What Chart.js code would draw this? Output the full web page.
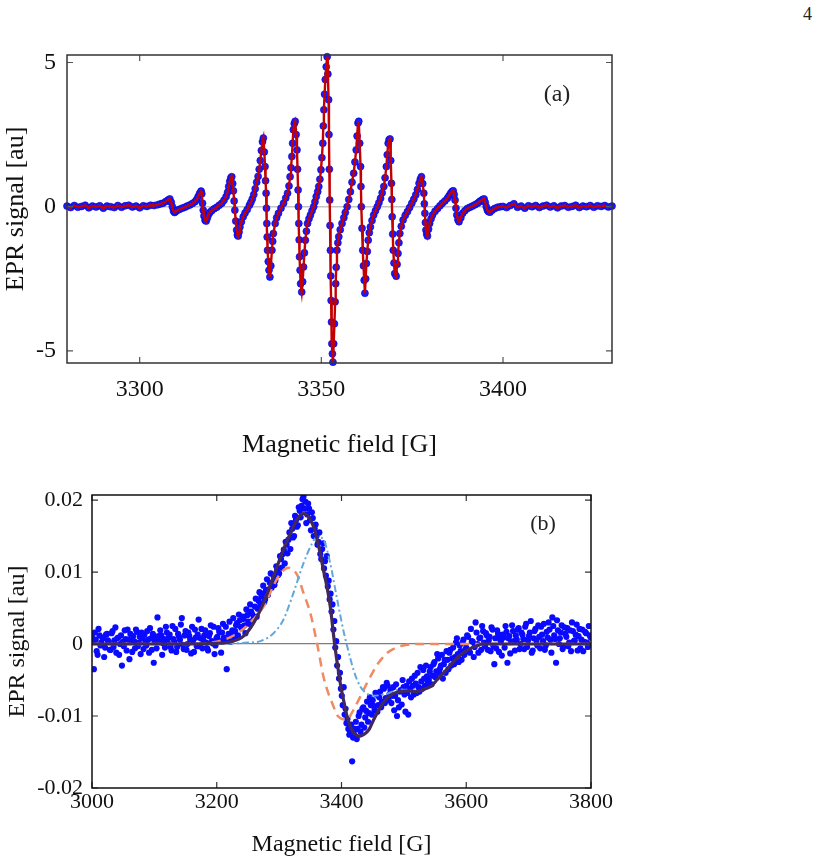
<!DOCTYPE html>
<html>
<head>
<meta charset="utf-8">
<script src="https://cdn.jsdelivr.net/npm/chart.js@4.4.1/dist/chart.umd.min.js"></script>
<style>
  body { margin: 0; background: #fff; }
  #page { position: relative; width: 824px; height: 859px; overflow: hidden; font-family: 'Liberation Serif', serif; }
  canvas { position: absolute; left: 0; }
  #pageNo { position: absolute; left: 803px; top: 4px; font-size: 18px; color: #222; }
</style>
</head>
<body>
<div id="page">
  <div id="pageNo">4</div>
  <canvas id="chartA" width="640" height="470" style="top:0px"></canvas>
  <canvas id="chartB" width="640" height="399" style="top:460px"></canvas>
</div>
<script>
// ---- panel (a): hyperfine spectrum, field [G] and signal [au]
const fieldA = [
  3280, 3281, 3282, 3283, 3284, 3285, 3286, 3287, 3288, 3289,
  3290, 3291, 3292, 3293, 3294, 3295, 3296, 3297, 3298, 3299,
  3300, 3301, 3302, 3303, 3304, 3305, 3305.8, 3306.4, 3307.2, 3307.8,
  3308.3, 3308.7, 3309.0, 3309.3, 3309.6, 3309.9, 3310.4, 3311.0, 3311.7, 3312.4,
  3313.1, 3313.8, 3314.5, 3315.2, 3315.7, 3316.1, 3316.5, 3316.9, 3317.1, 3317.3,
  3317.5, 3317.7, 3318.0, 3318.3, 3318.6, 3318.9, 3319.3, 3319.8, 3320.5, 3321.2,
  3321.9, 3322.6, 3323.2, 3323.8, 3324.2, 3324.5, 3324.8, 3325.1, 3325.35, 3325.6,
  3325.8, 3326.0, 3326.2, 3326.45, 3326.7, 3326.9, 3327.1, 3327.35, 3327.6, 3328.0,
  3328.5, 3329.0, 3329.6, 3330.2, 3330.6, 3331.0, 3331.4, 3331.8, 3332.2, 3332.6,
  3332.9, 3333.2, 3333.5, 3333.8, 3334.05, 3334.3, 3334.5, 3334.65, 3334.8, 3334.9,
  3335.0, 3335.1, 3335.2, 3335.4, 3335.6, 3335.85, 3336.1, 3336.4, 3336.6, 3336.8,
  3337.3, 3337.7, 3338.2, 3338.9, 3339.6, 3340.2, 3340.7, 3341.1, 3341.4, 3341.65,
  3341.9, 3342.1, 3342.3, 3342.55, 3342.8, 3343.05, 3343.3, 3343.45, 3343.6, 3343.7,
  3343.8, 3343.9, 3344.0, 3344.15, 3344.3, 3344.6, 3344.85, 3345.1, 3345.35, 3345.6,
  3345.9, 3346.2, 3346.6, 3347.0, 3347.45, 3347.9, 3348.25, 3348.6, 3349.0, 3349.3,
  3349.6, 3349.9, 3350.15, 3350.4, 3350.55, 3350.7, 3350.9, 3351.1, 3351.35, 3351.6,
  3351.8, 3352.0, 3352.1, 3352.2, 3352.3, 3352.4, 3352.5, 3352.6, 3352.7, 3352.8,
  3352.9, 3353.05, 3353.2, 3353.4, 3353.6, 3353.8, 3353.95, 3354.1, 3354.3, 3354.55,
  3354.8, 3355.2, 3355.7, 3356.2, 3356.6, 3357.1, 3357.55, 3358.0, 3358.45, 3358.9,
  3359.25, 3359.6, 3359.85, 3360.1, 3360.3, 3360.55, 3360.8, 3360.9, 3361.0, 3361.2,
  3361.4, 3361.6, 3361.8, 3362.0, 3362.2, 3362.4, 3362.65, 3362.9, 3363.2, 3363.5,
  3363.95, 3364.4, 3364.9, 3365.4, 3365.85, 3366.3, 3366.75, 3367.2, 3367.55, 3367.9,
  3368.15, 3368.4, 3368.65, 3368.9, 3369.1, 3369.3, 3369.4, 3369.5, 3369.65, 3369.8,
  3370.0, 3370.2, 3370.6, 3370.85, 3371.1, 3371.35, 3371.6, 3372.0, 3372.5, 3373.1,
  3373.7, 3374.3, 3374.9, 3375.45, 3376.0, 3376.45, 3376.9, 3377.25, 3377.55, 3377.9,
  3378.2, 3378.35, 3378.5, 3378.65, 3378.8, 3379.0, 3379.2, 3379.5, 3379.8, 3380.2,
  3380.6, 3381.3, 3382.0, 3382.65, 3383.3, 3384.0, 3384.7, 3385.15, 3385.6, 3386.0,
  3386.3, 3386.55, 3386.8, 3387.05, 3387.3, 3387.6, 3387.9, 3388.4, 3388.9, 3389.5,
  3390.2, 3390.9, 3391.6, 3392.3, 3393.0, 3393.5, 3393.9, 3394.4, 3394.8, 3395.1,
  3395.4, 3395.7, 3396.0, 3396.4, 3397.0, 3397.7, 3398.5, 3399.3, 3400.0, 3401,
  3402, 3403, 3404, 3405, 3406, 3407, 3408, 3409, 3410, 3411,
  3412, 3413, 3414, 3415, 3416, 3417, 3418, 3419, 3420, 3421,
  3422, 3423, 3424, 3425, 3426, 3427, 3428, 3429, 3430
];
const signalA = [
  0.02, -0.03, 0.04, -0.02, 0.01, 0.05, -0.04, 0.02, -0.01, 0.03,
  -0.05, 0.02, 0.00, -0.03, 0.04, -0.02, 0.03, 0.05, -0.01, 0.02,
  -0.04, 0.03, 0.01, 0.05, 0.04, 0.07, 0.10, 0.12, 0.18, 0.23,
  0.27, 0.15, 0.00, -0.15, -0.20, -0.17, -0.12, -0.09, -0.05, -0.02,
  0.02, 0.06, 0.11, 0.17, 0.25, 0.35, 0.46, 0.54, 0.45, 0.12,
  -0.12, -0.32, -0.47, -0.50, -0.40, -0.29, -0.20, -0.14, -0.07, -0.02,
  0.05, 0.12, 0.22, 0.35, 0.50, 0.70, 0.88, 1.00, 1.04, 0.80,
  0.55, 0.20, -0.12, -0.50, -0.81, -0.98, -1.02, -0.88, -0.70, -0.52,
  -0.35, -0.22, -0.10, 0.05, 0.15, 0.27, 0.42, 0.62, 0.85, 1.05,
  1.30, 1.60, 1.95, 2.25, 2.38, 1.90, 1.39, 0.90, 0.47, -0.05,
  -0.58, -1.05, -1.51, -1.90, -2.20, -2.44, -2.05, -1.51, -1.20, -0.93,
  -0.58, -0.38, -0.23, -0.05, 0.12, 0.30, 0.47, 0.72, 1.04, 1.35,
  1.74, 2.20, 2.67, 2.88, 2.96, 2.50, 1.97, 1.30, 0.58, 0.00,
  -0.58, -1.15, -1.74, -2.20, -2.67, -2.96, -2.60, -2.09, -1.60, -1.16,
  -0.85, -0.58, -0.42, -0.29, -0.14, 0.00, 0.17, 0.35, 0.52, 0.70,
  0.95, 1.28, 1.70, 2.20, 2.80, 3.36, 3.90, 4.41, 4.85, 5.20,
  4.60, 3.71, 2.50, 1.30, 0.23, -0.65, -1.51, -2.40, -3.25, -4.00,
  -4.75, -5.10, -5.39, -4.75, -4.06, -3.30, -2.67, -2.10, -1.51, -1.25,
  -1.04, -0.80, -0.58, -0.38, -0.20, 0.00, 0.25, 0.52, 0.85, 1.16,
  1.55, 1.97, 2.45, 2.90, 2.96, 2.20, 1.39, 0.70, 0.00, -0.75,
  -1.51, -2.05, -2.55, -3.00, -2.50, -1.97, -1.55, -1.16, -0.90, -0.70,
  -0.48, -0.29, -0.14, 0.00, 0.14, 0.29, 0.48, 0.70, 1.00, 1.39,
  1.80, 2.20, 2.32, 2.35, 1.60, 0.81, 0.25, -0.35, -0.95, -1.51,
  -1.95, -2.32, -2.41, -2.00, -1.62, -1.25, -0.93, -0.68, -0.46, -0.30,
  -0.17, -0.03, 0.12, 0.26, 0.41, 0.60, 0.81, 0.95, 1.04, 0.80,
  0.47, 0.10, -0.23, -0.55, -0.81, -0.95, -1.02, -0.78, -0.58, -0.42,
  -0.29, -0.16, -0.06, 0.03, 0.12, 0.20, 0.29, 0.38, 0.47, 0.53,
  0.55, 0.42, 0.23, -0.05, -0.29, -0.45, -0.52, -0.38, -0.23, -0.14,
  -0.06, -0.02, 0.02, 0.07, 0.12, 0.17, 0.21, 0.25, 0.27, 0.15,
  0.00, -0.12, -0.17, -0.19, -0.12, -0.06, -0.02, 0.00, 0.01, -0.03,
  0.04, 0.10, -0.02, 0.02, -0.05, 0.03, 0.00, 0.04, -0.03, 0.02,
  0.05, -0.01, 0.03, -0.04, 0.02, 0.04, -0.02, 0.01, 0.05, -0.03,
  0.02, 0.00, 0.04, -0.02, 0.03, 0.01, 0.04, -0.01, 0.02
];
const xTicksA = [3300, 3350, 3400];
const xTickLabelsA = ['3300', '3350', '3400'];
const yTicksA = [-5, 0, 5];
const yTickLabelsA = ['-5', '0', '5'];

// ---- panel (b): broad line, measured points (two interleaved groups)
const fieldB = [
  3000, 3003, 3006, 3009, 3012, 3015, 3018, 3021, 3024, 3027,
  3030, 3033, 3036, 3039, 3042, 3045, 3048, 3051, 3054, 3057,
  3060, 3063, 3066, 3069, 3072, 3075, 3078, 3081, 3084, 3087,
  3090, 3093, 3096, 3099, 3102, 3105, 3108, 3111, 3114, 3117,
  3120, 3123, 3126, 3129, 3132, 3135, 3138, 3141, 3144, 3147,
  3150, 3153, 3156, 3159, 3162, 3165, 3168, 3171, 3174, 3177,
  3180, 3183, 3186, 3189, 3192, 3195, 3198, 3201, 3204, 3207,
  3210, 3213, 3216, 3219, 3222, 3225, 3228, 3231, 3234, 3237,
  3240, 3243, 3246, 3249, 3252, 3255, 3258, 3261, 3264, 3267,
  3270, 3273, 3276, 3279, 3282, 3285, 3288, 3291, 3294, 3297,
  3300, 3303, 3306, 3309, 3312, 3315, 3318, 3321, 3324, 3327,
  3330, 3333, 3336, 3339, 3342, 3345, 3348, 3351, 3354, 3357,
  3360, 3363, 3366, 3369, 3372, 3375, 3378, 3381, 3384, 3387,
  3390, 3393, 3396, 3399, 3402, 3405, 3408, 3411, 3414, 3417,
  3420, 3423, 3426, 3429, 3432, 3435, 3438, 3441, 3444, 3447,
  3450, 3453, 3456, 3459, 3462, 3465, 3468, 3471, 3474, 3477,
  3480, 3483, 3486, 3489, 3492, 3495, 3498, 3501, 3504, 3507,
  3510, 3513, 3516, 3519, 3522, 3525, 3528, 3531, 3534, 3537,
  3540, 3543, 3546, 3549, 3552, 3555, 3558, 3561, 3564, 3567,
  3570, 3573, 3576, 3579, 3582, 3585, 3588, 3591, 3594, 3597,
  3600, 3603, 3606, 3609, 3612, 3615, 3618, 3621, 3624, 3627,
  3630, 3633, 3636, 3639, 3642, 3645, 3648, 3651, 3654, 3657,
  3660, 3663, 3666, 3669, 3672, 3675, 3678, 3681, 3684, 3687,
  3690, 3693, 3696, 3699, 3702, 3705, 3708, 3711, 3714, 3717,
  3720, 3723, 3726, 3729, 3732, 3735, 3738, 3741, 3744, 3747,
  3750, 3753, 3756, 3759, 3762, 3765, 3768, 3771, 3774, 3777,
  3780, 3783, 3786, 3789, 3792, 3795, 3798
];
const signalB = [
  0.0010, -0.0035, 0.0006, -0.0015, 0.0012, 0.0002, 0.0008, -0.0005, 0.0014, 0.0003,
  -0.0008, 0.0018, 0.0005, -0.0012, 0.0009, 0.0000, -0.0030, -0.0003, 0.0007, 0.0020,
  -0.0021, 0.0004, 0.0011, -0.0006, 0.0017, 0.0002, -0.0014, 0.0008, 0.0013, -0.0002,
  0.0006, 0.0022, -0.0008, -0.0026, 0.0010, 0.0037, 0.0004, 0.0012, 0.0001, -0.0005,
  0.0016, 0.0009, -0.0004, 0.0025, 0.0003, -0.0011, 0.0014, 0.0006, 0.0036, -0.0007,
  0.0018, 0.0000, 0.0011, -0.0013, 0.0005, 0.0020, -0.0003, 0.0034, 0.0008, -0.0006,
  0.0012, 0.0002, -0.0009, 0.0015, 0.0004, 0.0024, -0.0002, 0.0010, 0.0017, -0.0012,
  0.0028, 0.0007, -0.0035, 0.0014, 0.0003, 0.0019, 0.0009, 0.0026, 0.0012, 0.0033,
  0.0022, 0.0035, 0.0015, 0.0040, 0.0028, 0.0045, 0.0033, 0.0052, 0.0038, 0.0060,
  0.0055, 0.0070, 0.0058, 0.0075, 0.0068, 0.0085, 0.0078, 0.0095, 0.0088, 0.0104,
  0.0098, 0.0118, 0.0125, 0.0112, 0.0138, 0.0145, 0.0132, 0.0160, 0.0150, 0.0172,
  0.0165, 0.0185, 0.0192, 0.0205, 0.0198, 0.0180, 0.0188, 0.0158, 0.0175, 0.0160,
  0.0150, 0.0142, 0.0125, 0.0132, 0.0105, 0.0095, 0.0080, 0.0062, 0.0045, 0.0020,
  -0.0005, -0.0030, -0.0048, -0.0062, -0.0085, -0.0098, -0.0110, -0.0118, -0.0124, -0.0163,
  -0.0125, -0.0108, -0.0118, -0.0095, -0.0112, -0.0088, -0.0102, -0.0080, -0.0096, -0.0085,
  -0.0078, -0.0092, -0.0070, -0.0085, -0.0066, -0.0080, -0.0062, -0.0075, -0.0058, -0.0070,
  -0.0082, -0.0060, -0.0072, -0.0100, -0.0088, -0.0064, -0.0050, -0.0070, -0.0058, -0.0098,
  -0.0062, -0.0048, -0.0070, -0.0055, -0.0040, -0.0066, -0.0052, -0.0036, -0.0058, -0.0045,
  -0.0050, -0.0032, -0.0044, -0.0025, -0.0038, -0.0020, -0.0034, -0.0015, -0.0028, -0.0040,
  -0.0022, -0.0012, -0.0030, -0.0005, -0.0018, 0.0008, -0.0025, -0.0010, 0.0002, -0.0015,
  -0.0005, 0.0010, -0.0012, 0.0004, -0.0018, 0.0030, 0.0000, 0.0008, -0.0008, 0.0018,
  -0.0003, 0.0012, 0.0005, -0.0010, 0.0020, -0.0028, -0.0006, 0.0014, 0.0007, -0.0016,
  0.0009, 0.0025, -0.0026, 0.0011, 0.0003, 0.0018, -0.0009, 0.0006, 0.0022, 0.0000,
  0.0013, -0.0007, 0.0028, 0.0005, 0.0016, -0.0012, 0.0008, 0.0021, -0.0002, 0.0010,
  0.0024, 0.0004, -0.0008, 0.0017, 0.0030, 0.0006, 0.0037, 0.0012, -0.0026, 0.0019,
  0.0008, 0.0026, -0.0003, 0.0014, 0.0022, 0.0002, -0.0010, 0.0018, 0.0005, 0.0027,
  0.0011, -0.0006, 0.0020, 0.0003, 0.0015, -0.0004, 0.0012
];
const fieldB2 = [
  3001.5, 3004.5, 3007.5, 3010.5, 3013.5, 3016.5, 3019.5, 3022.5, 3025.5, 3028.5,
  3031.5, 3034.5, 3037.5, 3040.5, 3043.5, 3046.5, 3049.5, 3052.5, 3055.5, 3058.5,
  3061.5, 3064.5, 3067.5, 3070.5, 3073.5, 3076.5, 3079.5, 3082.5, 3085.5, 3088.5,
  3091.5, 3094.5, 3097.5, 3100.5, 3103.5, 3106.5, 3109.5, 3112.5, 3115.5, 3118.5,
  3121.5, 3124.5, 3127.5, 3130.5, 3133.5, 3136.5, 3139.5, 3142.5, 3145.5, 3148.5,
  3151.5, 3154.5, 3157.5, 3160.5, 3163.5, 3166.5, 3169.5, 3172.5, 3175.5, 3178.5,
  3181.5, 3184.5, 3187.5, 3190.5, 3193.5, 3196.5, 3199.5, 3202.5, 3205.5, 3208.5,
  3211.5, 3214.5, 3217.5, 3220.5, 3223.5, 3226.5, 3229.5, 3232.5, 3235.5, 3238.5,
  3241.5, 3244.5, 3247.5, 3250.5, 3253.5, 3256.5, 3259.5, 3262.5, 3265.5, 3268.5,
  3271.5, 3274.5, 3277.5, 3280.5, 3283.5, 3286.5, 3289.5, 3292.5, 3295.5, 3298.5,
  3301.5, 3304.5, 3307.5, 3310.5, 3313.5, 3316.5, 3319.5, 3322.5, 3325.5, 3328.5,
  3331.5, 3334.5, 3337.5, 3340.5, 3343.5, 3346.5, 3349.5, 3352.5, 3355.5, 3358.5,
  3361.5, 3364.5, 3367.5, 3370.5, 3373.5, 3376.5, 3379.5, 3382.5, 3385.5, 3388.5,
  3391.5, 3394.5, 3397.5, 3400.5, 3403.5, 3406.5, 3409.5, 3412.5, 3415.5, 3418.5,
  3421.5, 3424.5, 3427.5, 3430.5, 3433.5, 3436.5, 3439.5, 3442.5, 3445.5, 3448.5,
  3451.5, 3454.5, 3457.5, 3460.5, 3463.5, 3466.5, 3469.5, 3472.5, 3475.5, 3478.5,
  3481.5, 3484.5, 3487.5, 3490.5, 3493.5, 3496.5, 3499.5, 3502.5, 3505.5, 3508.5,
  3511.5, 3514.5, 3517.5, 3520.5, 3523.5, 3526.5, 3529.5, 3532.5, 3535.5, 3538.5,
  3541.5, 3544.5, 3547.5, 3550.5, 3553.5, 3556.5, 3559.5, 3562.5, 3565.5, 3568.5,
  3571.5, 3574.5, 3577.5, 3580.5, 3583.5, 3586.5, 3589.5, 3592.5, 3595.5, 3598.5,
  3601.5, 3604.5, 3607.5, 3610.5, 3613.5, 3616.5, 3619.5, 3622.5, 3625.5, 3628.5,
  3631.5, 3634.5, 3637.5, 3640.5, 3643.5, 3646.5, 3649.5, 3652.5, 3655.5, 3658.5,
  3661.5, 3664.5, 3667.5, 3670.5, 3673.5, 3676.5, 3679.5, 3682.5, 3685.5, 3688.5,
  3691.5, 3694.5, 3697.5, 3700.5, 3703.5, 3706.5, 3709.5, 3712.5, 3715.5, 3718.5,
  3721.5, 3724.5, 3727.5, 3730.5, 3733.5, 3736.5, 3739.5, 3742.5, 3745.5, 3748.5,
  3751.5, 3754.5, 3757.5, 3760.5, 3763.5, 3766.5, 3769.5, 3772.5, 3775.5, 3778.5,
  3781.5, 3784.5, 3787.5, 3790.5, 3793.5, 3796.5, 3799.5
];
const signalB2 = [
  0.0004, 0.0016, -0.0010, 0.0021, -0.0002, 0.0009, -0.0018, 0.0013, 0.0005, -0.0008,
  0.0015, -0.0004, 0.0023, 0.0008, -0.0015, 0.0012, 0.0003, 0.0019, -0.0009, 0.0006,
  0.0014, -0.0011, 0.0004, 0.0020, -0.0003, 0.0010, 0.0016, -0.0007, 0.0002, 0.0018,
  -0.0012, 0.0008, 0.0014, 0.0003, -0.0006, 0.0011, 0.0019, -0.0015, 0.0007, 0.0024,
  0.0002, 0.0013, -0.0009, 0.0007, 0.0021, -0.0004, 0.0010, 0.0027, -0.0001, 0.0012,
  -0.0008, 0.0016, 0.0006, 0.0024, -0.0011, 0.0009, 0.0013, -0.0003, 0.0021, 0.0005,
  0.0019, -0.0006, 0.0011, 0.0026, 0.0001, -0.0014, 0.0008, 0.0022, 0.0004, 0.0016,
  0.0009, 0.0024, 0.0005, 0.0031, 0.0012, 0.0036, 0.0018, 0.0029, 0.0041, 0.0024,
  0.0038, 0.0026, 0.0048, 0.0031, 0.0055, 0.0042, 0.0036, 0.0063, 0.0049, 0.0072,
  0.0066, 0.0081, 0.0062, 0.0090, 0.0076, 0.0098, 0.0084, 0.0082, 0.0108, 0.0096,
  0.0122, 0.0106, 0.0131, 0.0142, 0.0126, 0.0155, 0.0168, 0.0148, 0.0178, 0.0163,
  0.0190, 0.0176, 0.0201, 0.0188, 0.0168, 0.0195, 0.0172, 0.0183, 0.0150, 0.0166,
  0.0138, 0.0155, 0.0118, 0.0140, 0.0115, 0.0122, 0.0088, 0.0070, 0.0055, 0.0032,
  0.0004, -0.0018, -0.0040, -0.0072, -0.0060, -0.0090, -0.0104, -0.0126, -0.0112, -0.0130,
  -0.0118, -0.0132, -0.0100, -0.0122, -0.0090, -0.0116, -0.0093, -0.0108, -0.0074, -0.0098,
  -0.0086, -0.0068, -0.0094, -0.0074, -0.0088, -0.0060, -0.0082, -0.0054, -0.0078, -0.0064,
  -0.0072, -0.0092, -0.0056, -0.0078, -0.0066, -0.0084, -0.0060, -0.0094, -0.0068, -0.0052,
  -0.0074, -0.0058, -0.0044, -0.0068, -0.0060, -0.0032, -0.0062, -0.0048, -0.0030, -0.0054,
  -0.0038, -0.0056, -0.0028, -0.0046, -0.0014, -0.0040, -0.0030, -0.0048, -0.0022, -0.0010,
  -0.0035, -0.0008, -0.0020, -0.0028, 0.0002, -0.0014, -0.0002, -0.0022, 0.0006, -0.0008,
  0.0012, -0.0010, 0.0021, 0.0003, -0.0004, 0.0016, -0.0012, 0.0009, 0.0025, 0.0002,
  0.0015, -0.0008, 0.0010, 0.0023, -0.0003, 0.0008, 0.0019, -0.0011, 0.0004, 0.0013,
  -0.0005, 0.0017, 0.0008, -0.0013, 0.0026, 0.0004, 0.0012, 0.0020, -0.0007, 0.0016,
  0.0007, 0.0024, -0.0004, 0.0011, 0.0032, -0.0009, 0.0018, 0.0005, 0.0026, -0.0006,
  0.0013, 0.0028, -0.0002, 0.0009, 0.0020, -0.0012, 0.0025, 0.0007, 0.0033, 0.0000,
  0.0016, -0.0007, 0.0023, 0.0010, -0.0003, 0.0019, 0.0030, 0.0004, 0.0013, -0.0009,
  0.0021, 0.0006, -0.0010, 0.0017, 0.0002, 0.0025, 0.0009
];

// total fit
const fitFieldB = [3000, 3100, 3200, 3222, 3243, 3259, 3275, 3291, 3307, 3323, 3331, 3339, 3345, 3350, 3356, 3361, 3366, 3371, 3377, 3382, 3389, 3398, 3404, 3409, 3415, 3420, 3425, 3430, 3437, 3444, 3450, 3457, 3465, 3473, 3483, 3494, 3507, 3521, 3532, 3543, 3553, 3567, 3580, 3594, 3607, 3618, 3628, 3650, 3700, 3800];
const fitB = [0, 0, 0.0001, 0.0003, 0.0011, 0.0029, 0.0057, 0.0094, 0.0131, 0.0163, 0.0176, 0.0181, 0.0179, 0.0173, 0.0161, 0.0145, 0.0125, 0.0103, 0.0078, 0.0052, 0.0, -0.0054, -0.0081, -0.0101, -0.0116, -0.0124, -0.0127, -0.0128, -0.0125, -0.0119, -0.0108, -0.0096, -0.0084, -0.0075, -0.0069, -0.0066, -0.0065, -0.0066, -0.0063, -0.0059, -0.0050, -0.0037, -0.0024, -0.0013, -0.0006, -0.0002, 0, 0, 0, 0];
// narrow component (dashed)
const narrowFieldB = [3000, 3150, 3190, 3215, 3235, 3255, 3275, 3291, 3302, 3315, 3329, 3339, 3350, 3361, 3371, 3378, 3385, 3395, 3409, 3417, 3425, 3433, 3441, 3449, 3457, 3465, 3473, 3483, 3494, 3505, 3516, 3540, 3600, 3800];
const narrowB = [0, 0, 0.0002, 0.0007, 0.0016, 0.0031, 0.0052, 0.0081, 0.0098, 0.0106, 0.0096, 0.0071, 0.0043, 0.0, -0.0045, -0.0066, -0.0082, -0.0101, -0.0105, -0.0095, -0.0082, -0.0068, -0.0054, -0.0041, -0.0029, -0.0020, -0.00125, -0.0007, -0.0003, -0.0001, 0, 0, 0, 0];
// broad component (dash-dot)
const broadFieldB = [3000, 3200, 3230, 3250, 3270, 3291, 3307, 3323, 3339, 3353, 3361, 3371, 3382, 3393, 3404, 3412, 3420, 3430, 3441, 3452, 3462, 3473, 3494, 3507, 3521, 3532, 3543, 3553, 3567, 3580, 3594, 3607, 3618, 3628, 3650, 3800];
const broadB = [0, 0, 0.0001, 0.0002, 0.0004, 0.0015, 0.0034, 0.0071, 0.0112, 0.0140, 0.0149, 0.0145, 0.0112, 0.0062, 0.0015, -0.0013, -0.0038, -0.0059, -0.0069, -0.0072, -0.0071, -0.0069, -0.0063, -0.0064, -0.0066, -0.0063, -0.0059, -0.0050, -0.0037, -0.0024, -0.0013, -0.0006, -0.0002, 0, 0, 0];

const xTicksB = [3000, 3200, 3400, 3600, 3800];
const xTickLabelsB = ['3000', '3200', '3400', '3600', '3800'];
const yTicksB = [-0.02, -0.01, 0, 0.01, 0.02];
const yTickLabelsB = ['-0.02', '-0.01', '0', '0.01', '0.02'];

const serif = "'Liberation Serif', 'Times New Roman', serif";
const pts = (xs, ys) => xs.map((x, i) => ({ x: x, y: ys[i] }));

// box round the plot, ticks pointing inwards, panel tag
const frame = {
  id: 'frame',
  afterDraw(chart, args, opts) {
    const { ctx, chartArea: a, scales: { x, y } } = chart;
    ctx.save();
    ctx.strokeStyle = opts.tickColor;
    ctx.lineWidth = 1.2;
    ctx.beginPath();
    x.ticks.forEach(t => {
      const px = x.getPixelForValue(t.value);
      ctx.moveTo(px, a.bottom); ctx.lineTo(px, a.bottom - opts.len);
      ctx.moveTo(px, a.top); ctx.lineTo(px, a.top + opts.len);
    });
    y.ticks.forEach(t => {
      const py = y.getPixelForValue(t.value);
      ctx.moveTo(a.left, py); ctx.lineTo(a.left + opts.len, py);
      ctx.moveTo(a.right, py); ctx.lineTo(a.right - opts.len, py);
    });
    ctx.stroke();
    ctx.strokeStyle = opts.color;
    ctx.lineWidth = 1.5;
    ctx.strokeRect(a.left, a.top, a.right - a.left, a.bottom - a.top);
    ctx.fillStyle = '#222';
    ctx.font = opts.tagSize + 'px ' + serif;
    ctx.textAlign = 'center';
    ctx.textBaseline = 'middle';
    ctx.fillText(opts.tag, a.right + opts.tagX, a.top + opts.tagY);
    ctx.restore();
  }
};

new Chart(document.getElementById('chartA'), {
  type: 'line',
  data: {
    datasets: [
      {
        label: 'fit',
        data: pts(fieldA, signalA),
        borderColor: '#c40000',
        borderWidth: 2.4,
        pointRadius: 0,
        tension: 0,
        clip: false
      },
      {
        label: 'data',
        type: 'scatter',
        data: pts(fieldA, signalA),
        backgroundColor: '#1a1aff',
        borderColor: '#0000d0',
        borderWidth: 0.6,
        pointRadius: 3.5,
        showLine: false,
        clip: false
      }
    ]
  },
  options: {
    responsive: false,
    animation: false,
    devicePixelRatio: 1,
    layout: { padding: { top: 55, right: 28, left: 0, bottom: 0 } },
    plugins: {
      legend: { display: false },
      tooltip: { enabled: false },
      frame: { len: 6, color: '#333', tickColor: '#555', tag: '(a)', tagSize: 24, tagX: -55, tagY: 40 }
    },
    scales: {
      x: {
        type: 'linear',
        min: 3280,
        max: 3430,
        afterBuildTicks: s => { s.ticks = xTicksA.map(v => ({ value: v })); },
        afterFit: s => { s.height = 107; },
        grid: { display: false, drawTicks: false },
        border: { display: false },
        ticks: {
          font: { family: serif, size: 24 },
          color: '#111',
          padding: 12,
          maxRotation: 0,
          callback: v => xTickLabelsA[xTicksA.indexOf(v)]
        },
        title: {
          display: true,
          text: 'Magnetic field [G]',
          font: { family: serif, size: 26 },
          color: '#111',
          padding: { top: 0, bottom: 9 }
        }
      },
      y: {
        min: -5.42,
        max: 5.26,
        afterBuildTicks: s => { s.ticks = yTicksA.map(v => ({ value: v })); },
        afterFit: s => { s.width = 67; },
        grid: {
          drawTicks: false,
          lineWidth: 1.5,
          color: c => (c.tick && c.tick.value === 0 ? '#c4c4c4' : 'rgba(0,0,0,0)')
        },
        border: { display: false },
        ticks: {
          font: { family: serif, size: 24 },
          color: '#111',
          padding: 11,
          callback: v => yTickLabelsA[yTicksA.indexOf(v)]
        },
        title: {
          display: true,
          text: 'EPR signal [au]',
          font: { family: serif, size: 26 },
          color: '#111',
          padding: { top: 1, bottom: 0 }
        }
      }
    }
  },
  plugins: [frame]
});

new Chart(document.getElementById('chartB'), {
  type: 'line',
  data: {
    datasets: [
      {
        label: 'fit',
        data: pts(fitFieldB, fitB),
        borderColor: '#412a5a',
        borderWidth: 3.2,
        pointRadius: 0,
        cubicInterpolationMode: 'monotone'
      },
      {
        label: 'broad',
        data: pts(broadFieldB, broadB),
        borderColor: '#62a8dc',
        borderWidth: 2,
        borderDash: [7, 3, 2, 3],
        pointRadius: 0,
        cubicInterpolationMode: 'monotone'
      },
      {
        label: 'narrow',
        data: pts(narrowFieldB, narrowB),
        borderColor: '#ef8a62',
        borderWidth: 2.5,
        borderDash: [9, 6],
        pointRadius: 0,
        cubicInterpolationMode: 'monotone'
      },
      {
        label: 'data',
        type: 'scatter',
        data: pts(fieldB, signalB).concat(pts(fieldB2, signalB2)),
        backgroundColor: '#0a0aff',
        borderWidth: 0,
        pointRadius: 3.1,
        showLine: false
      }
    ]
  },
  options: {
    responsive: false,
    animation: false,
    devicePixelRatio: 1,
    layout: { padding: { top: 35, right: 49, left: 0, bottom: 0 } },
    plugins: {
      legend: { display: false },
      tooltip: { enabled: false },
      frame: { len: 6, color: '#111', tickColor: '#333', tag: '(b)', tagSize: 22, tagX: -48, tagY: 29 }
    },
    scales: {
      x: {
        type: 'linear',
        min: 3000,
        max: 3800,
        afterBuildTicks: s => { s.ticks = xTicksB.map(v => ({ value: v })); },
        afterFit: s => { s.height = 71; },
        grid: { display: false, drawTicks: false },
        border: { display: false },
        ticks: {
          font: { family: serif, size: 22 },
          color: '#111',
          padding: 1,
          maxRotation: 0,
          callback: v => xTickLabelsB[xTicksB.indexOf(v)]
        },
        title: {
          display: true,
          text: 'Magnetic field [G]',
          font: { family: serif, size: 24 },
          color: '#111',
          padding: { top: 0, bottom: 0 }
        }
      },
      y: {
        min: -0.02,
        max: 0.0207,
        afterBuildTicks: s => { s.ticks = yTicksB.map(v => ({ value: v })); },
        afterFit: s => { s.width = 92; },
        grid: {
          drawTicks: false,
          lineWidth: 1.2,
          color: c => (c.tick && c.tick.value === 0 ? '#7d7d7d' : 'rgba(0,0,0,0)')
        },
        border: { display: false },
        ticks: {
          font: { family: serif, size: 22 },
          color: '#111',
          padding: 9,
          callback: v => yTickLabelsB[yTicksB.indexOf(v)]
        },
        title: {
          display: true,
          text: 'EPR signal [au]',
          font: { family: serif, size: 24 },
          color: '#111',
          padding: { top: 3, bottom: 0 }
        }
      }
    }
  },
  plugins: [frame]
});
</script>
</body>
</html>
